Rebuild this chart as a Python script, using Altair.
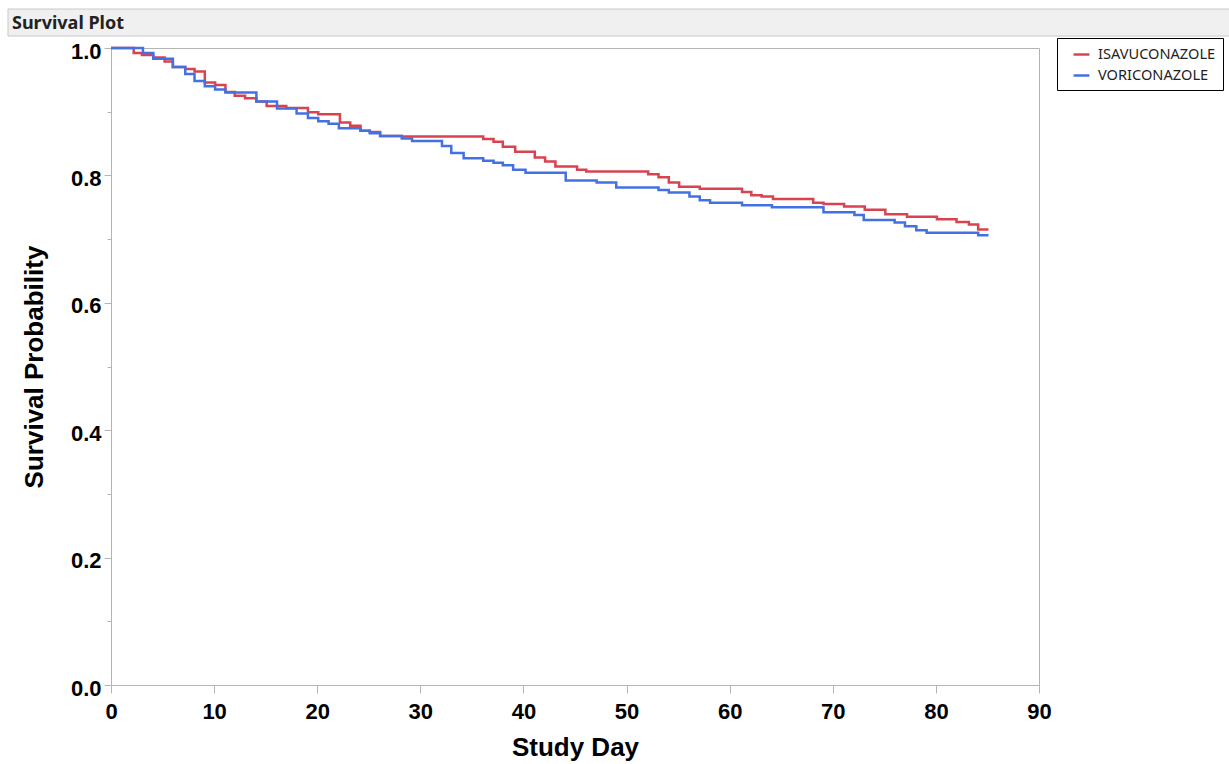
import altair as alt
import pandas as pd

# ---- data (Kaplan-Meier step curves) ----
groups = ["ISAVUCONAZOLE", "VORICONAZOLE"]
colors = ["#d8434f", "#4371e3"]

isa_days = [0, 2.2, 3.0, 4.1, 5.2, 6.0, 7.2, 8.1, 9.1, 10.1, 11.1, 12.0, 13.0, 14.1, 15.1,
            17.0, 19.1, 20.1, 22.2, 23.2, 24.2, 25.1, 26.1, 28.2, 36.1, 37.1, 38.0, 39.2,
            41.1, 42.1, 43.1, 45.2, 46.1, 52.1, 53.1, 54.1, 55.1, 57.1, 61.2, 62.1, 63.1,
            64.2, 68.1, 69.1, 71.1, 73.1, 75.1, 77.2, 80.1, 82.0, 83.2, 84.1, 85.1]
isa_surv = [1.0, 0.992, 0.989, 0.985, 0.979, 0.970, 0.967, 0.963, 0.946, 0.942, 0.931, 0.925,
            0.921, 0.916, 0.909, 0.906, 0.899, 0.896, 0.883, 0.878, 0.870, 0.868, 0.862, 0.861,
            0.857, 0.853, 0.845, 0.837, 0.828, 0.822, 0.814, 0.809, 0.806, 0.802, 0.797, 0.789,
            0.782, 0.779, 0.774, 0.769, 0.767, 0.763, 0.757, 0.755, 0.751, 0.746, 0.739, 0.735,
            0.731, 0.727, 0.723, 0.715, 0.715]

vori_days = [0, 3.1, 4.1, 6.0, 7.2, 8.1, 9.1, 10.1, 11.1, 14.1, 16.1, 18.0, 19.1, 20.1, 21.1,
             22.1, 24.2, 25.1, 26.1, 28.2, 29.2, 32.1, 33.0, 34.2, 36.1, 37.1, 38.0, 39.0,
             40.2, 44.1, 47.1, 49.0, 53.1, 54.1, 56.1, 57.1, 58.1, 61.2, 64.1, 69.1, 72.1,
             73.0, 76.0, 77.0, 78.1, 79.1, 84.1, 85.1]
vori_surv = [1.0, 0.992, 0.983, 0.970, 0.959, 0.948, 0.940, 0.935, 0.930, 0.916, 0.905, 0.897,
             0.890, 0.885, 0.881, 0.874, 0.870, 0.866, 0.862, 0.858, 0.854, 0.846, 0.835, 0.827,
             0.823, 0.820, 0.816, 0.809, 0.804, 0.792, 0.789, 0.781, 0.777, 0.773, 0.767, 0.761,
             0.757, 0.753, 0.750, 0.742, 0.738, 0.730, 0.726, 0.720, 0.714, 0.710, 0.706, 0.706]

x_ticks = [0, 10, 20, 30, 40, 50, 60, 70, 80, 90]
y_ticks = [0.0, 0.2, 0.4, 0.6, 0.8, 1.0]
y_minor = [0.1, 0.3, 0.5, 0.7, 0.9]
header_text = ["Survival Plot"]

rows = []
for g, days, surv in [(groups[0], isa_days, isa_surv), (groups[1], vori_days, vori_surv)]:
    for d, s in zip(days, surv):
        rows.append({"group": g, "day": d, "surv": s})
df = pd.DataFrame(rows)

AX_FONT = "Liberation Sans Narrow, Arial Narrow, Liberation Sans, sans-serif"
GRID = "#b4b4b4"

xscale = alt.Scale(domain=[0, 90], nice=False, zero=False)
yscale = alt.Scale(domain=[0, 1], nice=False)

lines = alt.Chart(df).mark_line(interpolate="step-after", strokeWidth=2.5).encode(
    x=alt.X("day:Q", scale=xscale,
            axis=alt.Axis(values=x_ticks, format="d", title="Study Day", grid=False,
                          labelFlush=False,
                          domainColor=GRID, tickColor=GRID, tickSize=8,
                          labelFont=AX_FONT, labelFontSize=22, labelFontWeight="bold",
                          labelColor="black", labelPadding=8,
                          titleFont=AX_FONT, titleFontSize=26, titleFontWeight="bold",
                          titleColor="black", titlePadding=12)),
    y=alt.Y("surv:Q", scale=yscale,
            axis=alt.Axis(values=y_ticks, format=".1f", title="Survival Probability",
                          grid=False, orient="left", labelFlush=False, labelOffset=3,
                          domainColor=GRID, tickColor=GRID, tickSize=7,
                          labelFont=AX_FONT, labelFontSize=22, labelFontWeight="bold",
                          labelColor="black", labelPadding=3,
                          titleFont=AX_FONT, titleFontSize=26, titleFontWeight="bold",
                          titleColor="black", titlePadding=23)),
    color=alt.Color("group:N", scale=alt.Scale(domain=groups, range=colors),
                    legend=alt.Legend(title=None, orient="none", legendX=946, legendY=-10,
                                      strokeColor="black", fillColor="white",
                                      padding=7, symbolType="stroke", symbolStrokeWidth=2.5,
                                      symbolSize=250, symbolOffset=8, rowPadding=4,
                                      labelOffset=7,
                                      labelFont="Noto Sans", labelFontSize=14.6,
                                      labelColor="#222222", labelLimit=220)),
)

minor = alt.Chart(df).mark_point(opacity=0).encode(
    y=alt.Y("surv:Q", scale=yscale,
            axis=alt.Axis(values=y_minor, labels=False, title=None, domain=False,
                          grid=False, orient="left", tickColor=GRID, tickSize=4)),
)

hdr = pd.DataFrame({"t": header_text})
header_box = alt.Chart(hdr).mark_rect(fill="#f0f0f0", stroke="#c8c8c8", strokeWidth=1).encode(
    x=alt.value(-103), x2=alt.value(1120), y=alt.value(-39), y2=alt.value(-12))
header_txt = alt.Chart(hdr).mark_text(align="left", baseline="alphabetic", font="Noto Sans",
                                      fontWeight="bold", fontSize=18, color="#222222").encode(
    x=alt.value(-99), y=alt.value(-19), text="t:N")

chart = alt.layer(header_box, header_txt, lines, minor).resolve_axis(y="independent").properties(
    width=928, height=637,
    autosize=alt.AutoSizeParams(type="none"),
    padding={"left": 111, "top": 48, "right": 190, "bottom": 79},
    background="white",
).configure_view(stroke=GRID, strokeWidth=1)

chart.save("out.html", embed_options={"renderer": "svg", "actions": False})
